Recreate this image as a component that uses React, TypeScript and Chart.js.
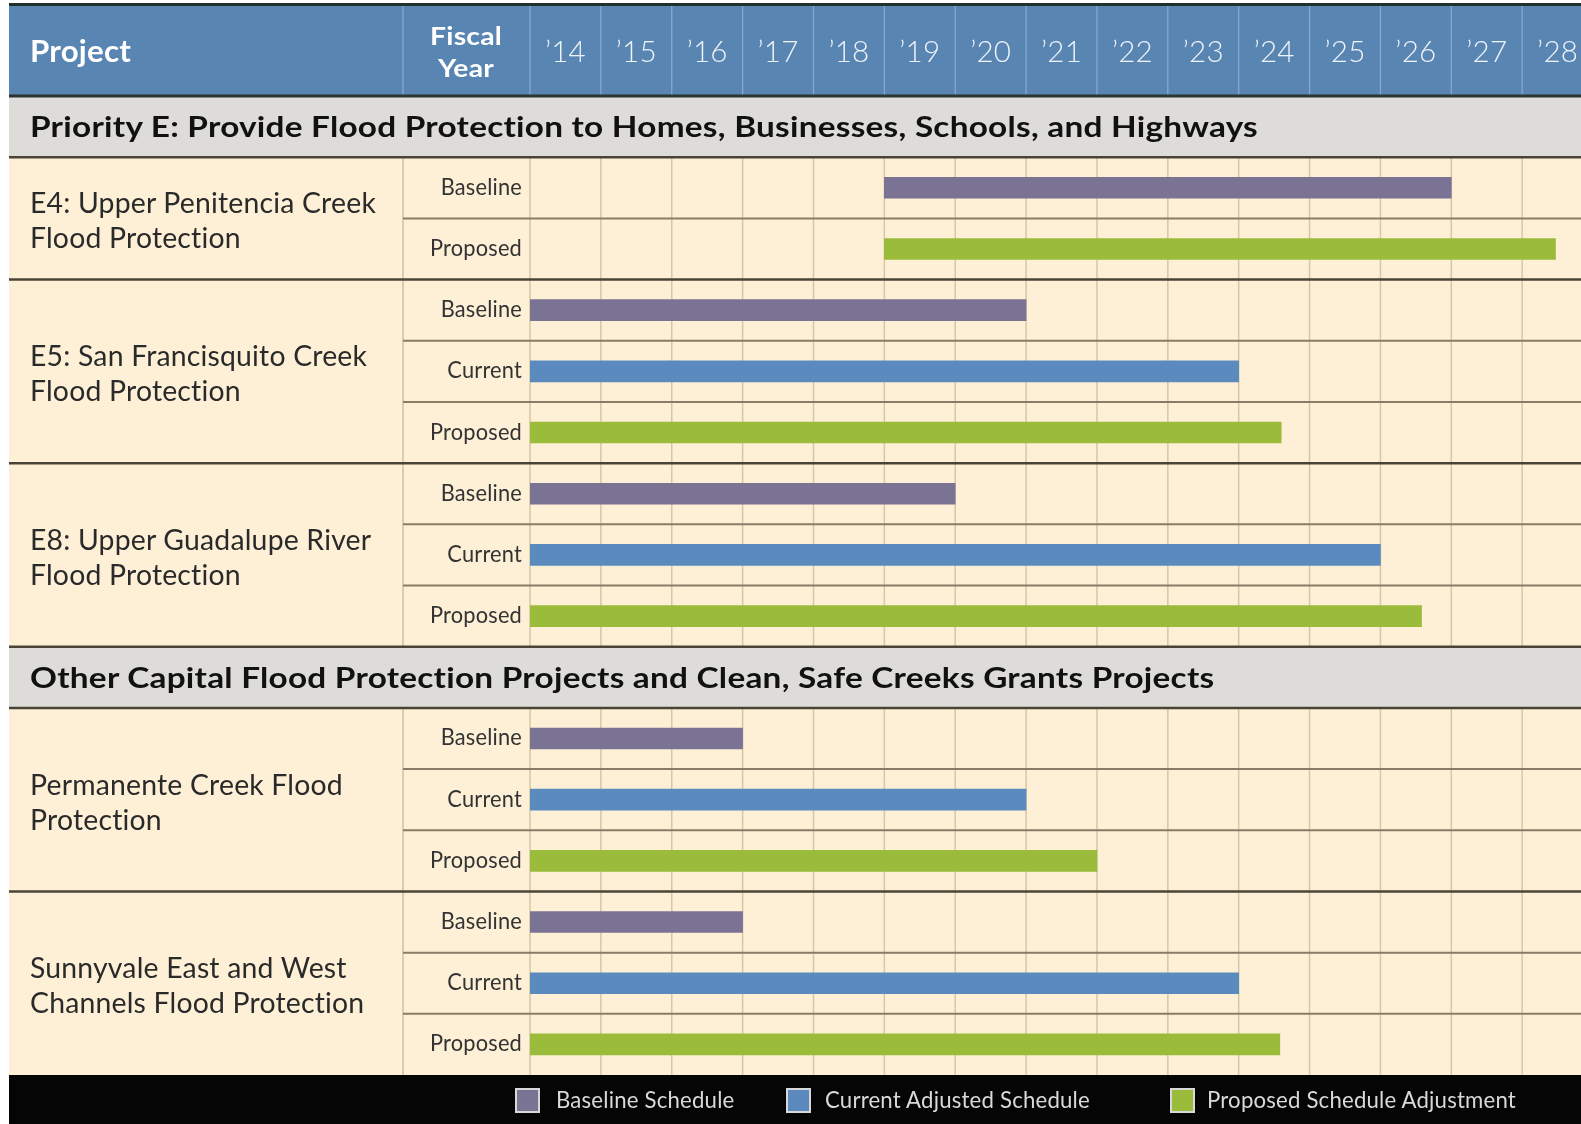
import React, { useEffect, useRef } from 'react';
import { Chart, registerables } from 'chart.js';

Chart.register(...registerables);

// ---------- data ----------
const yearLabels = ['’14', '’15', '’16', '’17', '’18', '’19', '’20', '’21', '’22', '’23', '’24', '’25', '’26', '’27', '’28'];
const firstYear = 14;
const lastVisibleYear = 28.83;

const sectionTitles = [
  'Priority E: Provide Flood Protection to Homes, Businesses, Schools, and Highways',
  'Other Capital Flood Protection Projects and Clean, Safe Creeks Grants Projects',
];

const projectNames = [
  ['E4: Upper Penitencia Creek', 'Flood Protection'],
  ['E5: San Francisquito Creek', 'Flood Protection'],
  ['E8: Upper Guadalupe River', 'Flood Protection'],
  ['Permanente Creek Flood', 'Protection'],
  ['Sunnyvale East and West', 'Channels Flood Protection'],
];
const projectSection = [0, 0, 0, 1, 1];

// [start fiscal year, end fiscal year]
const baselineSchedule: (number[] | null)[] = [[19, 27], [14, 21], [14, 20], [14, 17], [14, 17]];
const currentSchedule: (number[] | null)[] = [null, [14, 24], [14, 26], [14, 21], [14, 24]];
const proposedSchedule: (number[] | null)[] = [[19, 28.47], [14, 24.6], [14, 26.58], [14, 22], [14, 24.58]];

const scheduleNames = ['Baseline', 'Current', 'Proposed'];
const legendLabels = ['Baseline Schedule', 'Current Adjusted Schedule', 'Proposed Schedule Adjustment'];
const scheduleColors = ['#7b7393', '#5b8bbe', '#9bbb3b'];

// ---------- rows ----------
type Row = { kind: 'section'; section: number } | { kind: 'sub'; project: number; sched: number };
const schedules = [baselineSchedule, currentSchedule, proposedSchedule];
const rows: Row[] = [];
sectionTitles.forEach((_, s) => {
  rows.push({ kind: 'section', section: s });
  projectNames.forEach((_, p) => {
    if (projectSection[p] !== s) return;
    schedules.forEach((arr, k) => {
      if (arr[p]) rows.push({ kind: 'sub', project: p, sched: k });
    });
  });
});
const rowLabels = rows.map((r) =>
  r.kind === 'section' ? sectionTitles[r.section] : projectNames[r.project][0] + ' - ' + scheduleNames[r.sched]
);

// ---------- drawing helpers ----------
const F = 'Lato, "Open Sans", sans-serif';
const W = 1581;
const H = 1124;
const LEFT = 9;
const SPACING = '0.2px'; // non-zero spacing switches off typographic ligatures

function prep(ctx: CanvasRenderingContext2D, font: string) {
  ctx.font = font;
  (ctx as any).letterSpacing = SPACING;
  (ctx as any).fontKerning = 'normal';
}
function fitScale(ctx: CanvasRenderingContext2D, font: string, ref: string, width: number) {
  ctx.save();
  prep(ctx, font);
  const w = ctx.measureText(ref).width;
  ctx.restore();
  return w > 0 ? width / w : 1;
}
function drawText(
  ctx: CanvasRenderingContext2D, text: string, x: number, y: number, font: string, sx: number,
  color: string, align: CanvasTextAlign = 'left'
) {
  ctx.save();
  prep(ctx, font);
  ctx.fillStyle = color;
  ctx.textAlign = align;
  ctx.textBaseline = 'alphabetic';
  ctx.translate(x, y);
  ctx.scale(sx, 1);
  ctx.fillText(text, 0, 0);
  ctx.restore();
}
function hLine(ctx: CanvasRenderingContext2D, x0: number, x1: number, y: number, color: string, lw: number) {
  ctx.save();
  ctx.strokeStyle = color;
  ctx.lineWidth = lw;
  ctx.beginPath();
  ctx.moveTo(x0, y);
  ctx.lineTo(x1, y);
  ctx.stroke();
  ctx.restore();
}
function vLine(ctx: CanvasRenderingContext2D, x: number, y0: number, y1: number, color: string, lw: number) {
  ctx.save();
  ctx.strokeStyle = color;
  ctx.lineWidth = lw;
  ctx.beginPath();
  ctx.moveTo(x, y0);
  ctx.lineTo(x, y1);
  ctx.stroke();
  ctx.restore();
}

const tablePlugin = {
  id: 'ganttTable',
  beforeDatasetsDraw(chart: any) {
    const ctx: CanvasRenderingContext2D = chart.ctx;
    const area = chart.chartArea;
    const xs = chart.scales.x;
    const ys = chart.scales.y;
    const rowH = (area.bottom - area.top) / rows.length;
    const rowTop = (i: number) => ys.getPixelForValue(i) - rowH / 2;
    const rowMid = (i: number) => ys.getPixelForValue(i);
    const labelColX = 403;
    const plotX = area.left;

    // backgrounds
    ctx.save();
    ctx.fillStyle = '#ffffff';
    ctx.fillRect(0, 0, W, H);
    ctx.fillStyle = '#fdf0d6';
    ctx.fillRect(LEFT, area.top, W - LEFT, area.bottom - area.top);
    // header
    ctx.fillStyle = '#5985b3';
    ctx.fillRect(LEFT, 6, W - LEFT, area.top - 6);
    ctx.fillStyle = '#1f2f2a';
    ctx.fillRect(LEFT, 3, W - LEFT, 3);
    ctx.restore();

    // vertical grid lines in body
    vLine(ctx, labelColX, area.top, area.bottom, '#cfc1a1', 1.5);
    for (let y = firstYear; y <= Math.floor(lastVisibleYear); y++) {
      const px = xs.getPixelForValue(y);
      vLine(ctx, px, area.top, area.bottom, '#d6c7a5', 1.5);
    }
    // header vertical lines
    vLine(ctx, labelColX, 6, area.top, '#88abcf', 1.2);
    for (let y = firstYear; y <= Math.floor(lastVisibleYear); y++) {
      vLine(ctx, xs.getPixelForValue(y), 6, area.top, '#88abcf', 1.2);
    }

    // section rows
    const secFont = `bold 28px ${F}`;
    const secScale = fitScale(ctx, secFont, sectionTitles[0], 1228);
    rows.forEach((r, i) => {
      if (r.kind !== 'section') return;
      ctx.save();
      ctx.fillStyle = '#dddcd9';
      ctx.fillRect(LEFT, rowTop(i), W - LEFT, rowH);
      ctx.restore();
      drawText(ctx, sectionTitles[r.section], 30, rowMid(i) + 10.5, secFont, secScale, '#111111');
    });

    // horizontal lines
    hLine(ctx, LEFT, W, area.top, '#2a3531', 3);
    for (let i = 0; i < rows.length - 1; i++) {
      const a = rows[i];
      const b = rows[i + 1];
      const y = rowTop(i + 1);
      const sameProject = a.kind === 'sub' && b.kind === 'sub' && a.project === b.project;
      if (sameProject) hLine(ctx, labelColX, W, y, '#877c68', 2);
      else hLine(ctx, LEFT, W, y, '#4a4437', 2.5);
    }

    // header texts
    const projFont = `bold 31px ${F}`;
    drawText(ctx, 'Project', 30, 62, projFont, fitScale(ctx, projFont, 'Project', 101), '#ffffff');
    const fyFont = `bold 25px ${F}`;
    const fyScale = fitScale(ctx, fyFont, 'Fiscal', 72);
    drawText(ctx, 'Fiscal', 466, 45, fyFont, fyScale, '#ffffff', 'center');
    drawText(ctx, 'Year', 466, 77, fyFont, fyScale, '#ffffff', 'center');
    const yrFont = `300 30px ${F}`;
    const yrScale = fitScale(ctx, yrFont, yearLabels[0], 41);
    yearLabels.forEach((lab, k) => {
      drawText(ctx, lab, xs.getPixelForValue(firstYear + k + 0.5), 62, yrFont, yrScale, '#eef3f8', 'center');
    });

    // project names
    const nameFont = `29px ${F}`;
    const nameScale = fitScale(ctx, nameFont, projectNames[0][0], 346);
    projectNames.forEach((lines, p) => {
      const idx = rows.map((r, i) => (r.kind === 'sub' && r.project === p ? i : -1)).filter((i) => i >= 0);
      const top = rowTop(idx[0]);
      const bottom = rowTop(idx[idx.length - 1]) + rowH;
      const c = (top + bottom) / 2;
      drawText(ctx, lines[0], 30, c - 5, nameFont, nameScale, '#2a2a2a');
      drawText(ctx, lines[1], 30, c + 30, nameFont, nameScale, '#2a2a2a');
    });

    // sub labels
    const subFont = `23px ${F}`;
    const subScale = fitScale(ctx, subFont, 'Proposed', 92);
    rows.forEach((r, i) => {
      if (r.kind !== 'sub') return;
      drawText(ctx, scheduleNames[r.sched], plotX - 8, rowMid(i) + 7, subFont, subScale, '#333333', 'right');
    });

    // legend bar
    ctx.save();
    ctx.fillStyle = '#050505';
    ctx.fillRect(LEFT, area.bottom, W - LEFT, H - area.bottom);
    ctx.restore();
    const legFont = `23px ${F}`;
    const legScale = fitScale(ctx, legFont, legendLabels[2], 309);
    const swatchX = [516, 787, 1171];
    const textX = [556, 825, 1207];
    legendLabels.forEach((lab, k) => {
      ctx.save();
      ctx.fillStyle = scheduleColors[k];
      ctx.fillRect(swatchX[k], 1089, 23, 23);
      ctx.strokeStyle = '#d8d8d8';
      ctx.lineWidth = 2;
      ctx.strokeRect(swatchX[k], 1089, 23, 23);
      ctx.restore();
      drawText(ctx, lab, textX[k], 1108, legFont, legScale, '#d9d9d9');
    });
  },
};

export default function App() {
  const ref = useRef<HTMLCanvasElement | null>(null);
  useEffect(() => {
    if (!ref.current) return;
    const datasets = schedules.map((arr, k) => ({
      label: legendLabels[k],
      data: rows.map((r) => (r.kind === 'sub' && r.sched === k ? (arr[r.project] as number[]) : null)),
      backgroundColor: scheduleColors[k],
      borderWidth: 0,
      barThickness: 21,
      grouped: false,
      borderSkipped: false,
    }));
    const chart = new Chart(ref.current, {
      type: 'bar',
      data: { labels: rowLabels, datasets: datasets as any },
      options: {
        indexAxis: 'y',
        animation: false,
        responsive: false,
        layout: { padding: { left: 530, top: 96, right: 0, bottom: 49 } },
        plugins: { legend: { display: false }, tooltip: { enabled: false } },
        scales: {
          x: { type: 'linear', min: firstYear, max: lastVisibleYear, display: false },
          y: { type: 'category', display: false, offset: true },
        },
      },
      plugins: [tablePlugin],
    });
    return () => chart.destroy();
  }, []);
  return (
    <div style={{ position: 'absolute', left: 0, top: 0, width: W, height: H, background: '#fff' }}>
      <canvas ref={ref} width={W} height={H} style={{ display: 'block' }} />
    </div>
  );
}
